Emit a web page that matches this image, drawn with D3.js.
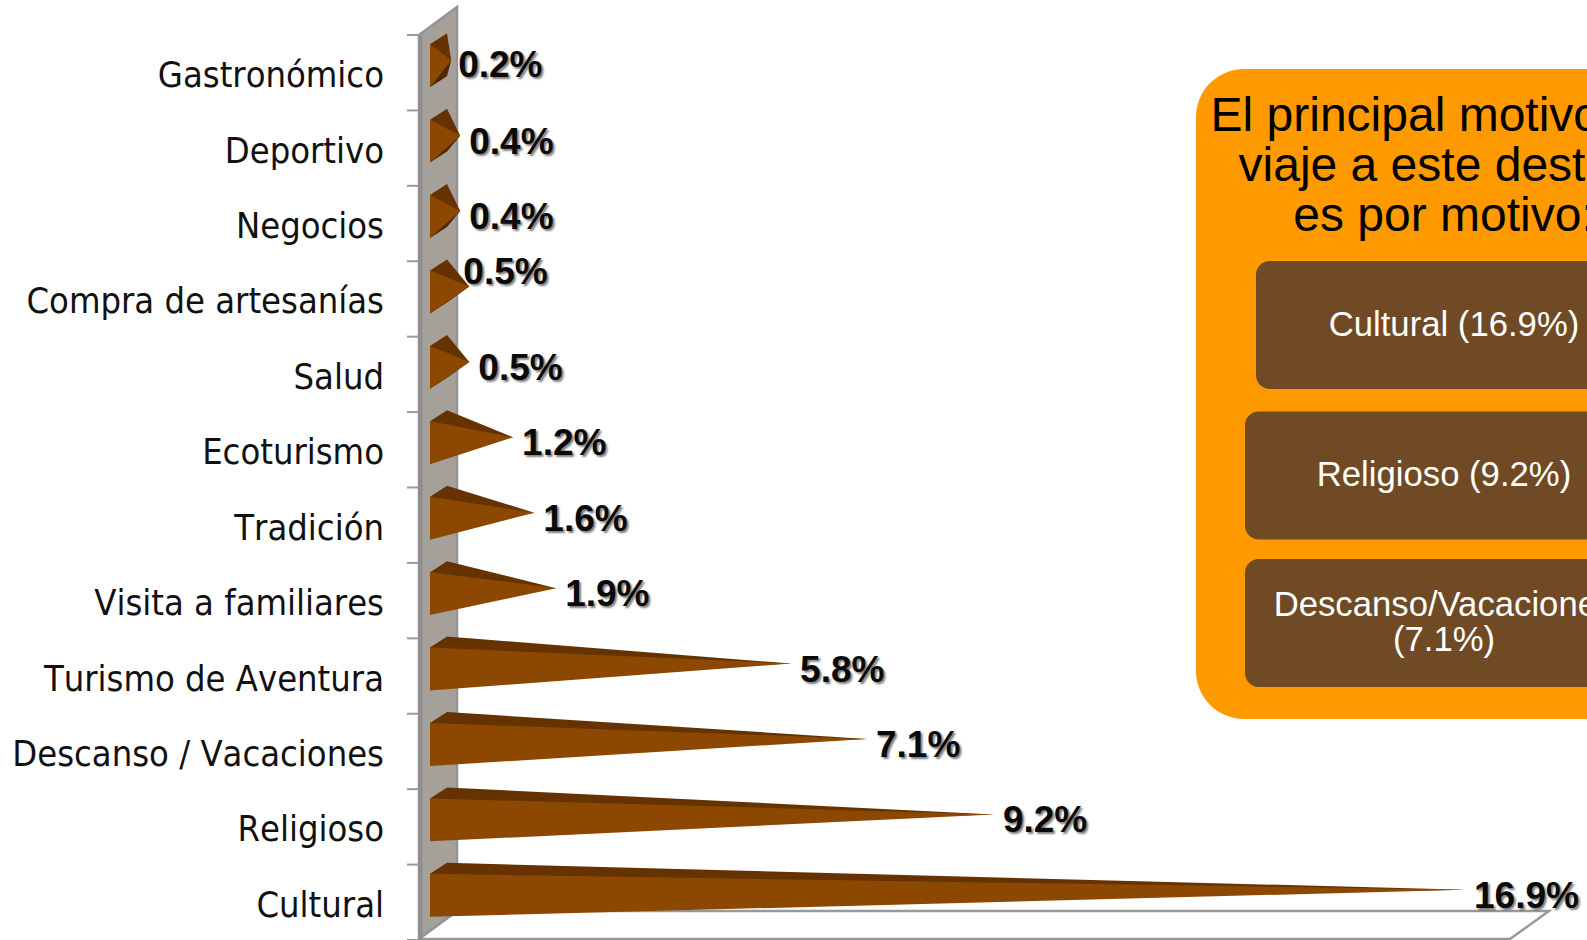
<!DOCTYPE html>
<html><head><meta charset="utf-8">
<script src="https://cdn.jsdelivr.net/npm/d3@7/dist/d3.min.js"></script>
<style>
html,body{margin:0;padding:0;background:#fff;overflow:hidden}
svg{display:block}
.val{font:bold 37px "Liberation Sans",Arial,sans-serif;fill:#0a0a0a;text-shadow:2px 2px 2px rgba(0,0,0,.5)}
.cat text{font-family:"DejaVu Sans Condensed","DejaVu Sans",sans-serif;font-stretch:condensed;font-size:36px;fill:#111;font-kerning:none}
</style></head><body>
<svg id="c" width="1587" height="940"></svg>
<script>
const categories=["Gastronómico","Deportivo","Negocios","Compra de artesanías","Salud","Ecoturismo","Tradición","Visita a familiares","Turismo de Aventura","Descanso / Vacaciones","Religioso","Cultural"];
const values=[0.2,0.35,0.35,0.5,0.5,1.22,1.57,1.93,5.8,7.05,9.14,16.9];
const valueLabels=["0.2%","0.4%","0.4%","0.5%","0.5%","1.2%","1.6%","1.9%","5.8%","7.1%","9.2%","16.9%"];
const labelNudges={"Compra de artesanías":[-15,-20],"Gastronómico":[-2,-1]};
const panelTitle=["El principal motivo del","viaje a este destino","es por motivo:"];
const panelItems=[["Cultural (16.9%)"],["Religioso (9.2%)"],["Descanso/Vacaciones","(7.1%)"]];

const svg=d3.select("#c");
const wallX=419,depthX=38,depthY=-28,topY=35,botY=940;
const y=d3.scaleBand().domain(categories).range([topY,botY]).paddingInner(.43).paddingOuter(.215);
const x=d3.scaleLinear().domain([0,16.9]).range([439,1465]);
const barX=430,bdx=17,bdy=-11,shift=-7;
const line=d3.line();

svg.append("path").attr("d",line([[wallX,939],[1510,939],[1549,911],[wallX+depthX,911]])).attr("fill","#fff").attr("stroke","#999").attr("stroke-width",2.5);
svg.append("path").attr("d",line([[wallX,topY],[wallX+depthX,topY+depthY],[wallX+depthX,911],[wallX,939]])+"Z").attr("fill","#A6A09B").attr("stroke","#949494").attr("stroke-width",2.5);
svg.append("line").attr("x1",wallX+1.5).attr("x2",wallX+1.5).attr("y1",topY).attr("y2",939).attr("stroke","#8e8e8e").attr("stroke-width",4);
const step=y.step();
svg.append("g").selectAll("line").data(d3.range(categories.length+1)).join("line")
 .attr("x1",407).attr("x2",wallX).attr("y1",i=>topY+i*step).attr("y2",i=>topY+i*step)
 .attr("stroke","#999").attr("stroke-width",2);
const ax=svg.append("g").attr("class","cat").attr("transform","translate(384,3)").call(d3.axisLeft(y).tickSize(0).tickPadding(0));
ax.select(".domain").remove();

const bars=svg.append("g").selectAll("g").data(categories).join("g");
const h=y.bandwidth();
bars.append("path").attr("fill","#4f2800").attr("d",(c,i)=>{const t=y(c)+shift;return line([[barX,t+h],[barX+bdx,t+h+bdy],[x(values[i]),t+h/2+bdy/2],[barX,t+h/2]])+"Z";});
bars.append("path").attr("fill","#663300").attr("d",(c,i)=>{const t=y(c)+shift;return line([[barX,t],[barX+bdx,t+bdy],[x(values[i]),t+h/2+bdy/2],[barX,t+h/2]])+"Z";});
bars.append("path").attr("fill","#8C4800").attr("d",(c,i)=>{const t=y(c)+shift;return line([[barX,t],[barX,t+h],[x(values[i]),t+h/2+bdy/2]])+"Z";});
bars.append("text").attr("class","val")
 .attr("x",(c,i)=>x(values[i])+9+(labelNudges[c]?labelNudges[c][0]:0))
 .attr("y",(c,i)=>y(c)+h/2+5.5+(labelNudges[c]?labelNudges[c][1]:0))
 .text((c,i)=>valueLabels[i]);

const boxes=[[1256,261,128],[1245,411.5,128],[1245,559,128]];
const boxBase=[[336],[486],[616,651]];
const p=svg.append("g").style("font-family",'"Liberation Sans",Arial,sans-serif');
p.append("rect").attr("x",1196).attr("y",69).attr("width",500).attr("height",650).attr("rx",48).attr("fill","#FF9900");
p.selectAll(".t").data(panelTitle).join("text").attr("class","t").attr("x",1444).attr("y",(d,i)=>131+i*50).attr("text-anchor","middle").attr("font-size",48).attr("fill","#000").text(d=>d);
p.selectAll(".b").data(boxes).join("rect").attr("class","b").attr("x",d=>d[0]).attr("y",d=>d[1]).attr("width",500).attr("height",d=>d[2]).attr("rx",14).attr("fill","#704A24");
panelItems.forEach((lines,k)=>lines.forEach((t,j)=>{
 p.append("text").attr("x",k==0?1454:1444).attr("y",boxBase[k][j]).attr("text-anchor","middle").attr("font-size",34.7).attr("fill","#fff").text(t);
}));
</script></body></html>
